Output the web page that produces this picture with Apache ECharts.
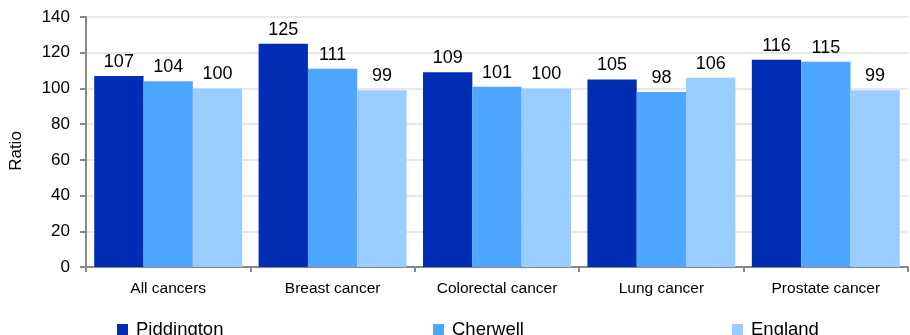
<!DOCTYPE html>
<html>
<head>
<meta charset="utf-8">
<script src="https://cdn.jsdelivr.net/npm/echarts@6/dist/echarts.min.js"></script>
<style>
  html, body { margin: 0; padding: 0; background: #fff; }
  #chart { width: 910px; height: 335px; }
</style>
</head>
<body>
<div id="chart"></div>
<script>
// categories and values
const categories = ['All cancers', 'Breast cancer', 'Colorectal cancer', 'Lung cancer', 'Prostate cancer'];
const piddington = [107, 125, 109, 105, 116];
const cherwell = [104, 111, 101, 98, 115];
const england = [100, 99, 100, 106, 99];
const yTicks = { min: 0, max: 140, interval: 20 };

const colors = ['#002db3', '#4da6ff', '#99ccff'];
const font = 'Liberation Sans, Arial, sans-serif';

const chart = echarts.init(document.getElementById('chart'));

function bar(name, data, color) {
  return {
    name: name,
    type: 'bar',
    data: data,
    barGap: 0,
    barCategoryGap: '10%',
    itemStyle: { color: color },
    label: {
      show: true,
      position: 'top',
      distance: 5,
      color: '#000',
      fontFamily: font,
      fontSize: 18
    }
  };
}

function legendAt(name, left) {
  return {
    data: [name],
    left: left,
    top: 315,
    itemWidth: 11,
    itemHeight: 11,
    itemGap: 0,
    icon: 'rect',
    textStyle: { fontFamily: font, fontSize: 18.5, color: '#000', padding: [0, 0, 0, 3] }
  };
}

chart.setOption({
  animation: false,
  color: colors,
  grid: { left: 86, right: 2, top: 17, bottom: 68 },
  legend: [
    legendAt('Piddington', 112),
    legendAt('Cherwell', 428),
    legendAt('England', 727)
  ],
  xAxis: {
    type: 'category',
    data: categories,
    axisLine: { lineStyle: { color: '#888', width: 2 } },
    axisTick: { show: true, alignWithLabel: false, length: 5, lineStyle: { color: '#888', width: 2 } },
    axisLabel: { color: '#000', fontFamily: font, fontSize: 15.5, margin: 14 }
  },
  yAxis: {
    type: 'value',
    min: yTicks.min,
    max: yTicks.max,
    interval: yTicks.interval,
    name: 'Ratio',
    nameLocation: 'middle',
    nameGap: 61,
    nameTextStyle: { color: '#000', fontFamily: font, fontSize: 17, padding: [0, 18, 0, 0] },
    axisLine: { show: true, lineStyle: { color: '#888', width: 2 } },
    axisTick: { show: true, length: 6, lineStyle: { color: '#888', width: 2 } },
    axisLabel: { color: '#000', fontFamily: font, fontSize: 17, margin: 16 },
    splitLine: { lineStyle: { color: '#e8e8e8', width: 2 } }
  },
  series: [
    bar('Piddington', piddington, colors[0]),
    bar('Cherwell', cherwell, colors[1]),
    bar('England', england, colors[2])
  ]
});
</script>
</body>
</html>
